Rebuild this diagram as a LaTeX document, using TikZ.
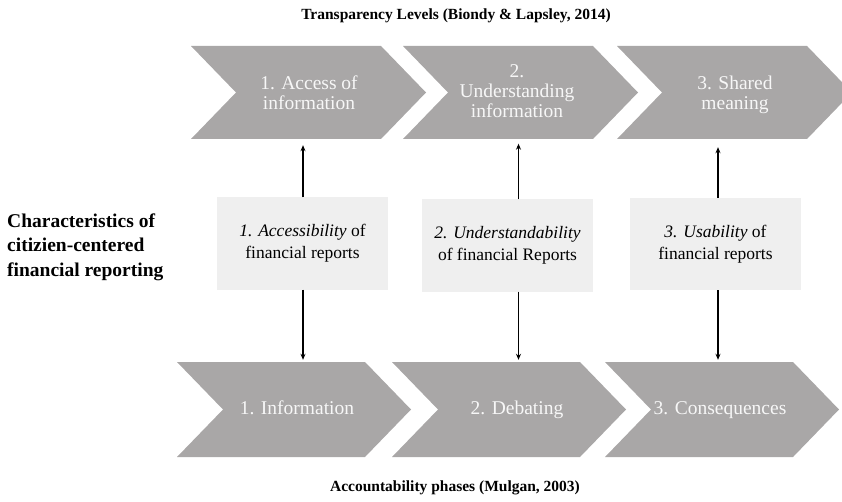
\documentclass[tikz,border=0pt]{standalone}
\usepackage{fontspec}
\setmainfont{Liberation Serif}
\usetikzlibrary{positioning,arrows.meta,calc}
\definecolor{chevgrey}{HTML}{A9A7A7}
\definecolor{chevtext}{HTML}{F7F7F7}
\definecolor{boxgrey}{HTML}{EFEFEF}
\tikzset{
  ph chev/.style={fill=chevgrey},
  ph text/.style={align=center, text=chevtext, inner sep=0pt, font=\fontsize{19.5}{20}\selectfont},
  ch box/.style={fill=boxgrey, minimum width=171pt, minimum height=92pt, align=center, inner sep=0pt,
                 font=\fontsize{17.5}{22}\selectfont},
  ch arr/.style={-{Stealth[length=6pt, width=5pt]}, line width=1.2pt, black},
  ttl/.style={font=\bfseries\fontsize{15.5}{18}\selectfont},
}

\begin{document}
\begin{tikzpicture}[x=1pt, y=-1pt]
  \useasboundingbox (0,0) rectangle (842,502);
  % headings
  \node[ttl] (tlhead) at (456,16) {Transparency Levels (Biondy \& Lapsley, 2014)};
  \node[ttl] (aphead) at (455,488) {Accountability phases (Mulgan, 2003)};
  \node[font=\bfseries\fontsize{19.5}{24.5}\selectfont, align=left, anchor=west, inner sep=0pt] (crhead) at (7,247)
       {Characteristics of\\citizien-centered\\financial reporting};
  % row 1: transparency levels
  \foreach \x in {191,403,617}
    \fill[ph chev] (\x,46) -- ++(190,0) -- ++(45,46.5) -- ++(-45,46.5) -- ++(-190,0) -- ++(45,-46.5) -- cycle;
  \node[ph text, minimum height=93pt] (tl1) at (309,92.5) {1. Access of\\information};
  \node[ph text, minimum height=93pt] (tl2) at (517,91)   {2.\\Understanding\\information};
  \node[ph text, minimum height=93pt] (tl3) at (735,94.5) {3. Shared\\meaning};
  % row 3: accountability phases
  \foreach \x in {177,392,605}
    \fill[ph chev] (\x,362) -- ++(188,0) -- ++(46,47.5) -- ++(-46,47.5) -- ++(-188,0) -- ++(46,-47.5) -- cycle;
  \foreach \n/\x/\t in {ap1/297/1. Information, ap2/517/2. Debating, ap3/720/3. Consequences}
    \node[ph text, minimum height=95pt, text height=13pt, text depth=4pt] (\n) at (\x,409.5) {\t};
  % row 2: report characteristics
  \node[ch box] (cr1) at (302.5,243.5) {\textit{1. Accessibility} of\\financial reports};
  \node[ch box] (cr2) at (507.5,245.5) {\textit{2. Understandability}\\of financial Reports};
  \node[ch box] (cr3) at (715.5,244)   {\textit{3. Usability} of\\financial reports};
  % links up and down
  \foreach \i/\dx in {1/0.5, 2/11, 3/2.5} {
    \coordinate (up\i) at ([xshift=\dx pt]cr\i.north);
    \coordinate (dn\i) at ([xshift=\dx pt]cr\i.south);
    \draw[ch arr, shorten >=6pt] (up\i) -- (up\i |- tl\i.south);
    \draw[ch arr, shorten >=2pt] (dn\i) -- (dn\i |- ap\i.north);
  }
\end{tikzpicture}
\end{document}
